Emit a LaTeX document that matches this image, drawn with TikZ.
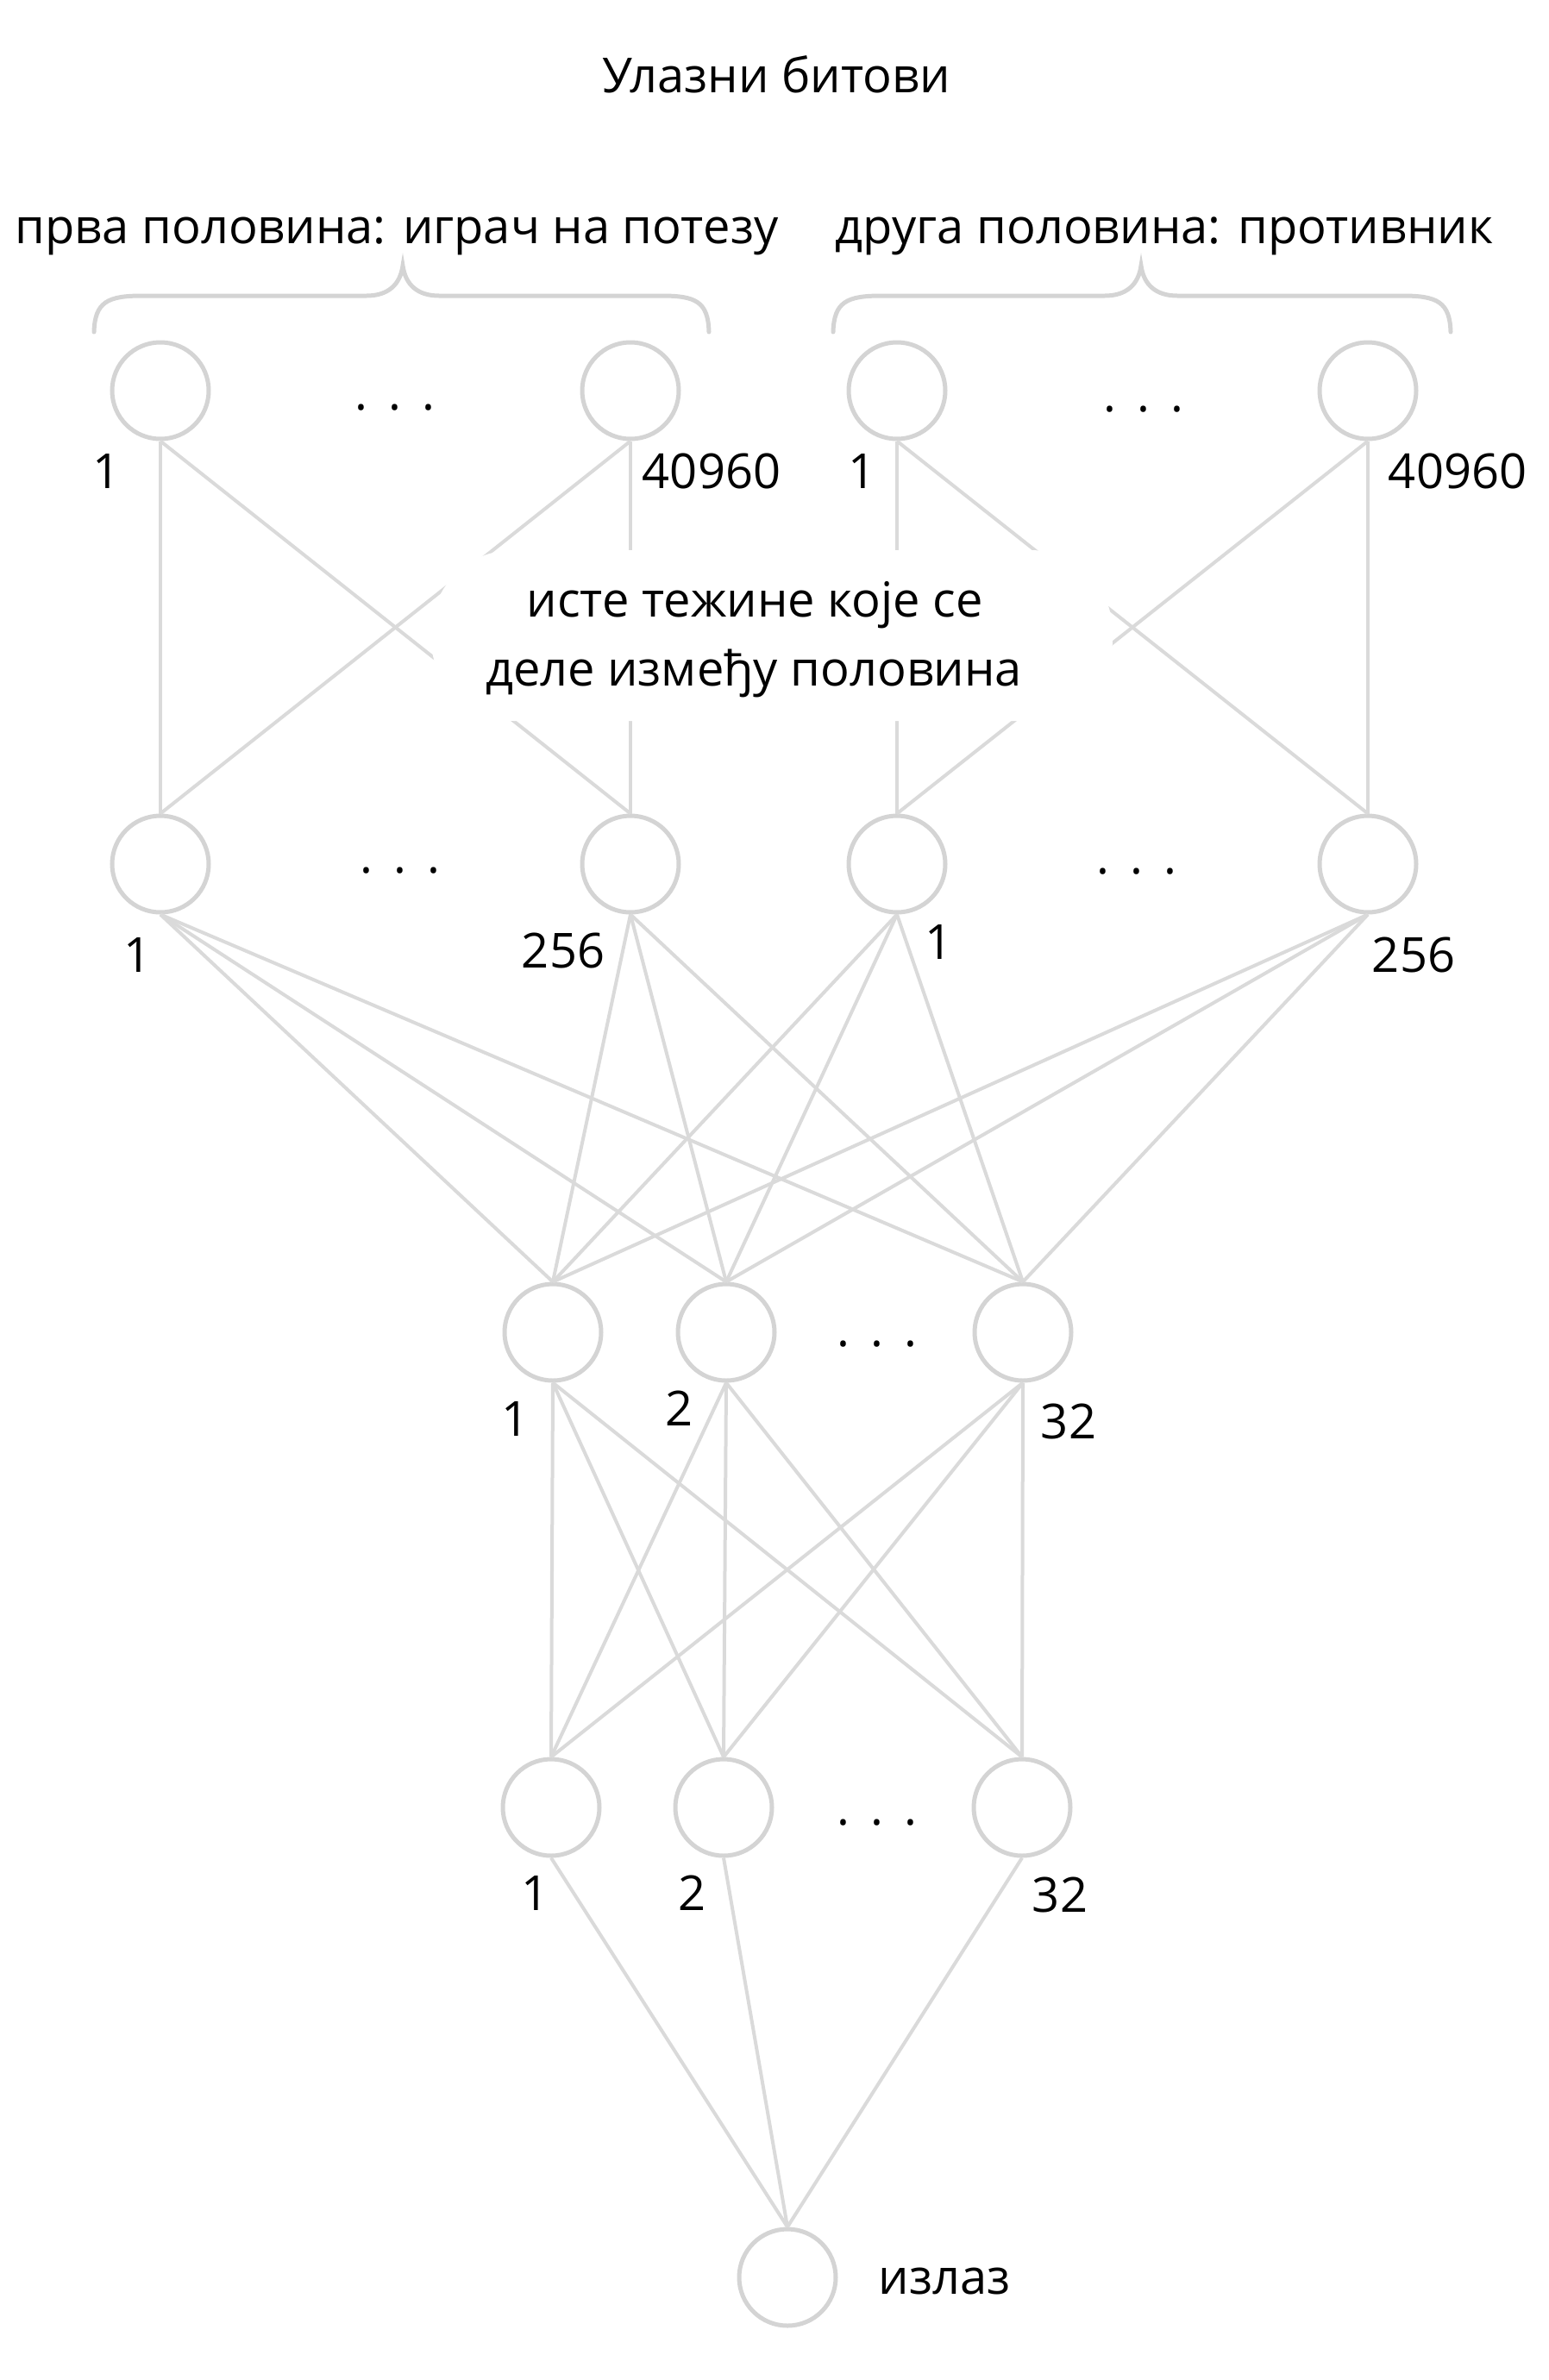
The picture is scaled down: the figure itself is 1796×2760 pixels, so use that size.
\documentclass[tikz,border=0pt]{standalone}
\usepackage{fontspec}
\setmainfont{Open Sans}
\definecolor{linec}{RGB}{218,218,218}
\definecolor{circc}{RGB}{212,212,212}
\begin{document}
\begin{tikzpicture}[x=1pt,y=-1pt,
  neuron/.style={circle,draw=circc,line width=5pt,minimum size=112pt,inner sep=0pt},
  conn/.style={draw=linec,line width=4pt},
  bracec/.style={draw=circc,line width=5pt,line cap=round},
  lbl/.style={font=\fontsize{56}{67}\selectfont,anchor=base,inner sep=0pt},
  dotsn/.style={font=\fontsize{56}{67}\selectfont,anchor=base,inner sep=0pt}]
\useasboundingbox (0,0) rectangle (1796,2760);
% layer 1
\node[neuron] (a1) at (186,453) {};
\node[neuron] (a2) at (731,453) {};
\node[neuron] (a3) at (1040,453) {};
\node[neuron] (a4) at (1586,453) {};
% layer 2
\node[neuron] (b1) at (186,1002) {};
\node[neuron] (b2) at (731,1002) {};
\node[neuron] (b3) at (1040,1002) {};
\node[neuron] (b4) at (1586,1002) {};
% layer 3
\node[neuron] (c1) at (641,1545) {};
\node[neuron] (c2) at (842,1545) {};
\node[neuron] (c3) at (1186,1545) {};
% layer 4
\node[neuron] (d1) at (639,2096) {};
\node[neuron] (d2) at (839,2096) {};
\node[neuron] (d3) at (1185,2096) {};
% output
\node[neuron] (o) at (913,2641) {};
% connections layer 1 -> 2
\draw[conn] (a1.south) -- (b1.north);
\draw[conn] (a1.south) -- (b2.north);
\draw[conn] (a2.south) -- (b1.north);
\draw[conn] (a2.south) -- (b2.north);
\draw[conn] (a3.south) -- (b3.north);
\draw[conn] (a3.south) -- (b4.north);
\draw[conn] (a4.south) -- (b3.north);
\draw[conn] (a4.south) -- (b4.north);
% layer 2 -> 3
\foreach \s in {b1,b2,b3,b4}{
  \foreach \t in {c1,c2,c3}{
    \draw[conn] (\s.south) -- (\t.north);
  }
}
% layer 3 -> 4
\foreach \s in {c1,c2,c3}{
  \foreach \t in {d1,d2,d3}{
    \draw[conn] (\s.south) -- (\t.north);
  }
}
% layer 4 -> output
\foreach \s in {d1,d2,d3}{
  \draw[conn] (\s.south) -- (o.north);
}
% shared weights note
\node[fill=white,rounded corners=95pt,minimum width=790pt,minimum height=198pt,inner sep=0pt] (cover) at (895,737) {};
\node[lbl] (note1) at (875,715) {исте тежине које се};
\node[lbl] (note2) at (874,795) {деле између половина};
% braces
\draw[bracec] (109,385) .. controls (110,350) and (125,343) .. (165,343) -- (425,343)
  .. controls (450,343) and (464,330) .. (467,308)
  .. controls (470,330) and (484,343) .. (509,343) -- (767,343)
  .. controls (807,343) and (821,350) .. (822,385);
\draw[bracec] (966,385) .. controls (967,350) and (982,343) .. (1022,343) -- (1281,343)
  .. controls (1306,343) and (1320,330) .. (1323,308)
  .. controls (1326,330) and (1340,343) .. (1365,343) -- (1626,343)
  .. controls (1666,343) and (1681,350) .. (1682,385);
% texts
\node[lbl] (title) at (900,107) {Улазни битови};
\node[lbl] (lhalf) at (460,282) {прва половина: играч на потезу};
\node[lbl] (rhalf) at (1350,282) {друга половина: противник};
% labels
\node[lbl] (la1) at (124,566) {1};
\node[lbl] (la2) at (825,566) {40960};
\node[lbl] (la3) at (999,566) {1};
\node[lbl] (la4) at (1690,566) {40960};
\node[lbl] (lb1) at (160,1127) {1};
\node[lbl] (lb2) at (653,1122) {256};
\node[lbl] (lb3) at (1088,1112) {1};
\node[lbl] (lb4) at (1639,1127) {256};
\node[lbl] (lc1) at (598,1665) {1};
\node[lbl] (lc2) at (788,1653) {2};
\node[lbl] (lc3) at (1239,1668) {32};
\node[lbl] (ld1) at (621,2215) {1};
\node[lbl] (ld2) at (803,2215) {2};
\node[lbl] (ld3) at (1229,2217) {32};
\node[lbl] (lo) at (1095,2660) {излаз};
% dots
\node[dotsn] (da) at (458,475) {.\hspace{24pt}.\hspace{24pt}.};
\node[dotsn] (db) at (1326,477) {.\hspace{24pt}.\hspace{24pt}.};
\node[dotsn] (dc) at (464,1012) {.\hspace{24pt}.\hspace{24pt}.};
\node[dotsn] (dd) at (1318,1013) {.\hspace{24pt}.\hspace{24pt}.};
\node[dotsn] (de) at (1017,1561) {.\hspace{24pt}.\hspace{24pt}.};
\node[dotsn] (df) at (1017,2116) {.\hspace{24pt}.\hspace{24pt}.};
\end{tikzpicture}
\end{document}
